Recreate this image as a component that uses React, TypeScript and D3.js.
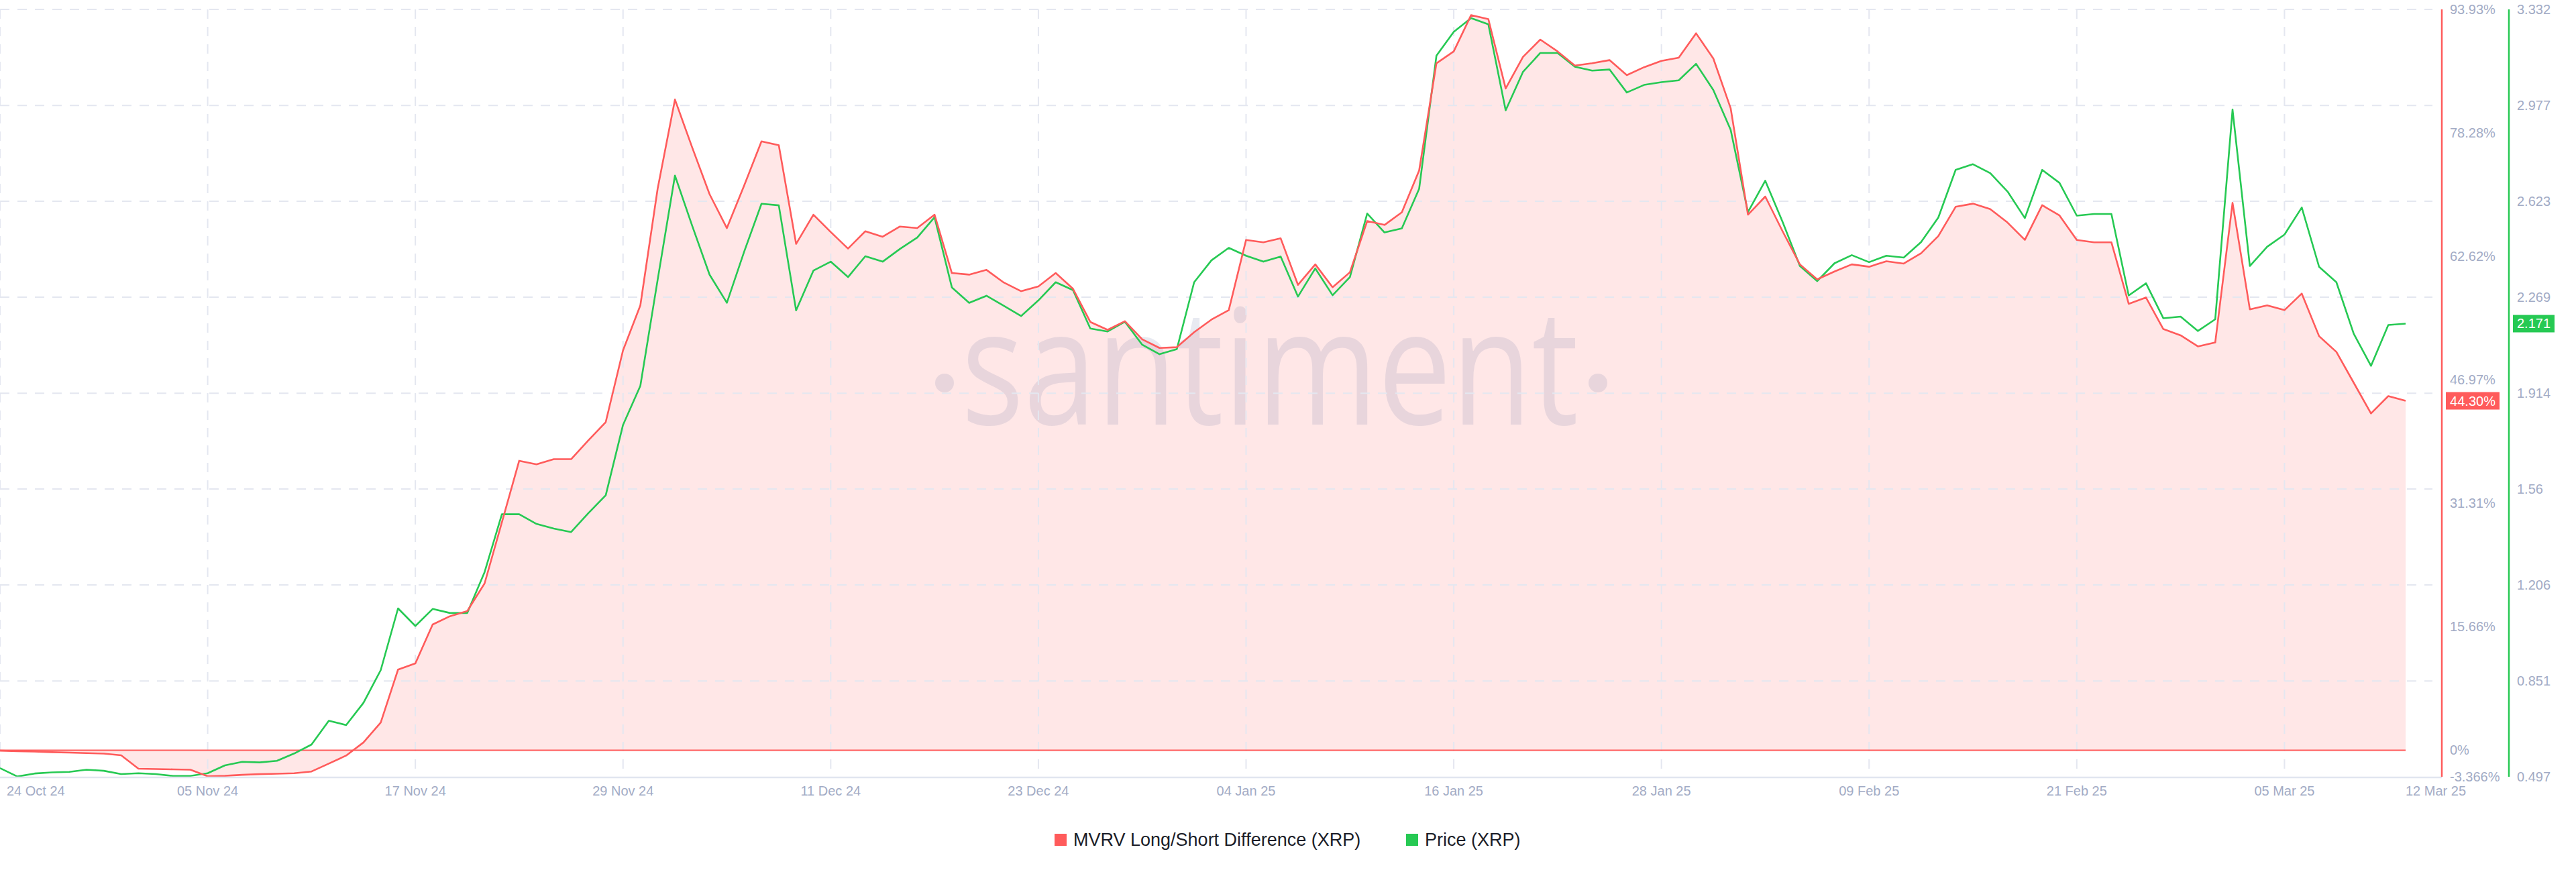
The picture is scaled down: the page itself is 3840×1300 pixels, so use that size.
import * as d3 from 'd3'

// MVRV Long/Short Difference (XRP), % — daily from 24 Oct 24
const mvrvValues = [
  -0.06, -0.12, -0.18, -0.25, -0.31, -0.37, -0.43, -0.65, -2.35, -2.39,
  -2.43, -2.47, -3.3, -3.25, -3.12, -3.04, -2.98, -2.92, -2.7, -1.7,
  -0.68, 0.98, 3.51, 10.22, 11.0, 15.94, 16.99, 17.64, 21.15, 28.9,
  36.7, 36.25, 36.9, 36.9, 39.3, 41.6, 50.7, 56.4, 71.2, 82.5,
  76.4, 70.5, 66.2, 71.6, 77.2, 76.7, 64.2, 67.9, 65.7, 63.6,
  65.8, 65.1, 66.4, 66.2, 67.9, 60.5, 60.3, 60.9, 59.3, 58.2,
  58.8, 60.5, 58.5, 54.3, 53.3, 54.4, 52.1, 51.0, 51.1, 53.0,
  54.6, 55.8, 64.7, 64.4, 64.9, 59.0, 61.6, 58.7, 60.6, 67.1,
  66.6, 68.2, 73.5, 87.1, 88.6, 93.2, 92.7, 83.9, 87.9, 90.1,
  88.6, 86.8, 87.1, 87.5, 85.6, 86.6, 87.4, 87.8, 90.9, 87.7,
  81.4, 67.9, 70.2, 65.8, 61.6, 59.7, 60.7, 61.6, 61.3, 62.0,
  61.7, 63.0, 65.2, 68.9, 69.3, 68.6, 66.9, 64.7, 69.1, 67.8,
  64.7, 64.4, 64.4, 56.6, 57.4, 53.4, 52.6, 51.2, 51.7, 69.4,
  55.9, 56.4, 55.8, 57.9, 52.5, 50.5, 46.6, 42.7, 44.9, 44.3,
]

// Price (XRP), USD
const priceValues = [
  0.529, 0.498, 0.509, 0.513, 0.515, 0.523, 0.519, 0.507, 0.51, 0.507,
  0.5, 0.5, 0.51, 0.539, 0.552, 0.55, 0.556, 0.583, 0.616, 0.704,
  0.688, 0.77, 0.891, 1.119, 1.054, 1.117, 1.102, 1.102, 1.253, 1.467,
  1.467, 1.431, 1.414, 1.401, 1.471, 1.537, 1.797, 1.941, 2.333, 2.718,
  2.532, 2.352, 2.248, 2.437, 2.614, 2.608, 2.22, 2.367, 2.4, 2.343,
  2.42, 2.4, 2.447, 2.489, 2.564, 2.305, 2.248, 2.274, 2.237, 2.199,
  2.257, 2.324, 2.295, 2.153, 2.142, 2.178, 2.093, 2.058, 2.077, 2.324,
  2.405, 2.451, 2.422, 2.4, 2.419, 2.271, 2.375, 2.276, 2.343, 2.578,
  2.508, 2.523, 2.669, 3.161, 3.249, 3.3, 3.277, 2.959, 3.101, 3.171,
  3.171, 3.12, 3.106, 3.11, 3.025, 3.053, 3.063, 3.07, 3.131, 3.034,
  2.887, 2.583, 2.699, 2.547, 2.384, 2.328, 2.394, 2.424, 2.398, 2.422,
  2.415, 2.472, 2.563, 2.739, 2.76, 2.727, 2.659, 2.561, 2.739, 2.691,
  2.57, 2.576, 2.576, 2.275, 2.32, 2.191, 2.197, 2.144, 2.187, 2.962,
  2.384, 2.455, 2.5, 2.6, 2.381, 2.324, 2.134, 2.015, 2.166, 2.171,
]

const startDate = Date.UTC(2024, 9, 24)

const xTickDates = [
  '2024-10-24', '2024-11-05', '2024-11-17', '2024-11-29', '2024-12-11', '2024-12-23',
  '2025-01-04', '2025-01-16', '2025-01-28', '2025-02-09', '2025-02-21', '2025-03-05',
]
const lastTickDate = '2025-03-12'

const mvrvTicks = [-3.366, 0, 15.66, 31.31, 46.97, 62.62, 78.28, 93.93]
const priceTicks = [0.497, 0.851, 1.206, 1.56, 1.914, 2.269, 2.623, 2.977, 3.332]

const legendItems = ['MVRV Long/Short Difference (XRP)', 'Price (XRP)']

const RED = '#ff5b5b'
const GREEN = '#26c953'
const MUTED = '#a2abc5'
const GRID = '#e4e7f0'
const FONT = '"Liberation Sans", Arial, sans-serif'

export default function App() {
  const W = 3840
  const H = 1300
  const top = 14
  const bottom = 1158
  const plotRight = 3586
  const gridRight = 3626
  const redAxisX = 3640
  const greenAxisX = 3740

  const dates = mvrvValues.map((_, i) => d3.utcDay.offset(new Date(startDate), i))
  const n = dates.length

  const x = d3.scaleUtc().domain([dates[0], dates[n - 1]]).range([0, plotRight])
  const yM = d3.scaleLinear().domain([-3.366, 93.93]).range([bottom, top])
  const yP = d3.scaleLinear().domain([0.497, 3.332]).range([bottom, top])
  const fmt = d3.utcFormat('%d %b %y')

  const area = d3
    .area<number>()
    .x((_, i) => x(dates[i]))
    .y0(yM(0))
    .y1((d) => yM(d))
  const mvrvLine = d3
    .line<number>()
    .x((_, i) => x(dates[i]))
    .y((d) => yM(d))
  const priceLine = d3
    .line<number>()
    .x((_, i) => x(dates[i]))
    .y((d) => yP(d))

  const lastM = mvrvValues[n - 1]
  const lastP = priceValues[n - 1]

  return (
    <svg
      width={W}
      height={H}
      style={{ position: 'absolute', left: 0, top: 0, display: 'block', background: '#fff' }}
      fontFamily={FONT}
    >
      {/* area fill */}
      <path d={area(mvrvValues) ?? ''} fill={RED} fillOpacity={0.15} />

      {/* watermark */}
      <g fill="rgb(102,116,163)" fillOpacity={0.15}>
        <circle cx={1408} cy={571} r={14} />
        <circle cx={2382} cy={571} r={14} />
        <text
          x={1433}
          y={633}
          fontFamily='"Open Sans", sans-serif'
          fontSize={240}
          textLength={920}
          lengthAdjust="spacingAndGlyphs"
        >
          santiment
        </text>
      </g>

      {/* horizontal grid */}
      {priceTicks.slice(1).map((t) => (
        <line
          key={'h' + t}
          x1={0}
          x2={gridRight}
          y1={yP(t)}
          y2={yP(t)}
          stroke={GRID}
          strokeWidth={2}
          strokeDasharray="14 12"
        />
      ))}
      {/* vertical grid */}
      {xTickDates.map((d) => {
        const xv = x(new Date(d + 'T00:00:00Z'))
        return (
          <line
            key={'v' + d}
            x1={xv}
            x2={xv}
            y1={top}
            y2={bottom}
            stroke={GRID}
            strokeWidth={2}
            strokeDasharray="14 12"
          />
        )
      })}

      {/* zero baseline */}
      <line x1={0} x2={plotRight} y1={yM(0)} y2={yM(0)} stroke={RED} strokeWidth={2} />

      {/* series */}
      <path d={priceLine(priceValues) ?? ''} fill="none" stroke={GREEN} strokeWidth={2.6} strokeLinejoin="round" />
      <path d={mvrvLine(mvrvValues) ?? ''} fill="none" stroke={RED} strokeWidth={2.6} strokeLinejoin="round" />

      {/* x axis */}
      <line x1={0} x2={redAxisX} y1={bottom + 1} y2={bottom + 1} stroke="#e1e5ef" strokeWidth={2.5} />
      {xTickDates.map((d, i) => {
        const xv = x(new Date(d + 'T00:00:00Z'))
        return (
          <text
            key={'xl' + d}
            x={i === 0 ? 10 : xv}
            y={1186}
            fontSize={20}
            fill={MUTED}
            textAnchor={i === 0 ? 'start' : 'middle'}
          >
            {fmt(new Date(d + 'T00:00:00Z'))}
          </text>
        )
      })}
      <text x={x(new Date(lastTickDate + 'T00:00:00Z'))} y={1186} fontSize={20} fill={MUTED}>
        {fmt(new Date(lastTickDate + 'T00:00:00Z'))}
      </text>

      {/* red axis */}
      <line x1={redAxisX} x2={redAxisX} y1={top} y2={bottom} stroke={RED} strokeWidth={2.5} />
      {mvrvTicks.map((t) => (
        <text
          key={'m' + t}
          x={redAxisX + 12}
          y={yM(t)}
          dy="0.35em"
          fontSize={20}
          fill={MUTED}
        >
          {t === 0 ? '0%' : `${t.toFixed(t === -3.366 ? 3 : 2)}%`}
        </text>
      ))}
      <rect x={redAxisX + 6} y={yM(lastM) - 13} width={80} height={26} fill={RED} />
      <text
        x={redAxisX + 46}
        y={yM(lastM)}
        dy="0.35em"
        fontSize={20}
        fill="#fff"
        textAnchor="middle"
      >
        {`${lastM.toFixed(2)}0%`.replace(/(\.\d\d)0%$/, '$1%')}
      </text>

      {/* green axis */}
      <line x1={greenAxisX} x2={greenAxisX} y1={top} y2={bottom} stroke={GREEN} strokeWidth={2.5} />
      {priceTicks.map((t) => (
        <text
          key={'p' + t}
          x={greenAxisX + 12}
          y={yP(t)}
          dy="0.35em"
          fontSize={20}
          fill={MUTED}
        >
          {String(t)}
        </text>
      ))}
      <rect x={greenAxisX + 6} y={yP(lastP) - 13} width={62} height={26} fill={GREEN} />
      <text
        x={greenAxisX + 37}
        y={yP(lastP)}
        dy="0.35em"
        fontSize={20}
        fill="#fff"
        textAnchor="middle"
      >
        {lastP.toFixed(3)}
      </text>

      {/* legend */}
      <rect x={1572} y={1243} width={18} height={18} fill={RED} />
      <text x={1600} y={1252} dy="0.35em" fontSize={27} fill="#1b1d28">
        {legendItems[0]}
      </text>
      <rect x={2096} y={1243} width={18} height={18} fill={GREEN} />
      <text x={2124} y={1252} dy="0.35em" fontSize={27} fill="#1b1d28">
        {legendItems[1]}
      </text>
    </svg>
  )
}
